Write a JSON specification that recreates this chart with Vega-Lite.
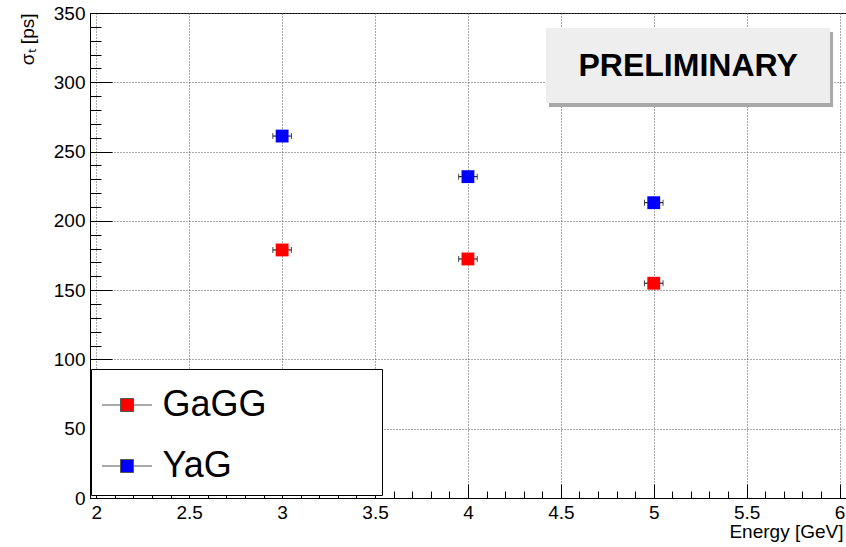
{
  "$schema": "https://vega.github.io/schema/vega-lite/v6.json",
  "width": 757,
  "height": 485,
  "autosize": {"type": "none"},
  "padding": {"left": 90, "top": 13, "right": 0, "bottom": 49},
  "background": "white",
  "config": {
    "view": {"stroke": "black", "strokeWidth": 1},
    "font": "Liberation Sans"
  },
  "resolve": {"axis": {"x": "independent", "y": "independent"}},
  "datasets": {
    "pts": [
      {"energy": 3, "sigma": 179.0, "series": "GaGG", "xlo": 2.95, "xhi": 3.05},
      {"energy": 4, "sigma": 172.5, "series": "GaGG", "xlo": 3.95, "xhi": 4.05},
      {"energy": 5, "sigma": 155.0, "series": "GaGG", "xlo": 4.95, "xhi": 5.05},
      {"energy": 3, "sigma": 261.2, "series": "YaG", "xlo": 2.95, "xhi": 3.05},
      {"energy": 4, "sigma": 231.9, "series": "YaG", "xlo": 3.95, "xhi": 4.05},
      {"energy": 5, "sigma": 213.1, "series": "YaG", "xlo": 4.95, "xhi": 5.05}
    ],
    "annot": [{"label": "PRELIMINARY"}]
  },
  "layer": [
    {
      "data": {"name": "pts"},
      "mark": {"type": "rule", "color": "black", "strokeWidth": 1},
      "encoding": {
        "x": {
          "field": "xlo", "type": "quantitative",
          "scale": {"domain": [1.966, 6.04], "nice": false, "zero": false},
          "axis": {
            "orient": "bottom",
            "title": "Energy [GeV]",
            "values": [2, 2.5, 3, 3.5, 4, 4.5, 5, 5.5, 6],
            "format": "~g",
            "labelOverlap": false,
            "labelFlush": false,
            "labelFontSize": 19,
            "labelColor": "black",
            "labelPadding": 19,
            "tickColor": "black",
            "domainColor": "black",
            "tickSize": -14,
            "grid": true,
            "gridColor": "#555",
            "gridDash": [1, 2],
            "titleFontSize": 19,
            "titleFontWeight": "normal",
            "titleColor": "black",
            "titleAlign": "right",
            "titleAnchor": "end",
            "titleX": 753,
            "titleY": 39,
            "titleBaseline": "alphabetic"
          }
        },
        "x2": {"field": "xhi"},
        "y": {
          "field": "sigma", "type": "quantitative",
          "scale": {"domain": [0, 350], "nice": false},
          "axis": {
            "orient": "left",
            "title": "σₜ [ps]",
            "values": [0, 50, 100, 150, 200, 250, 300, 350],
            "labelOverlap": false,
            "labelFlush": false,
            "labelFontSize": 19,
            "labelColor": "black",
            "labelPadding": 27,
            "tickColor": "black",
            "domainColor": "black",
            "tickSize": -22,
            "grid": true,
            "gridColor": "#555",
            "gridDash": [1, 2],
            "titleFontSize": 19,
            "titleFontWeight": "normal",
            "titleColor": "black",
            "titleAngle": -90,
            "titleAlign": "right",
            "titleAnchor": "end",
            "titleX": -57,
            "titleY": 0,
            "titleBaseline": "alphabetic"
          }
        }
      }
    },
    {
      "data": {"name": "pts"},
      "mark": {"type": "tick", "orient": "vertical", "color": "black", "size": 6, "thickness": 1},
      "encoding": {
        "x": {
          "field": "xlo", "type": "quantitative",
          "axis": {
            "orient": "bottom",
            "title": null,
            "values": [2,2.1,2.2,2.3,2.4,2.5,2.6,2.7,2.8,2.9,3,3.1,3.2,3.3,3.4,3.5,3.6,3.7,3.8,3.9,4,4.1,4.2,4.3,4.4,4.5,4.6,4.7,4.8,4.9,5,5.1,5.2,5.3,5.4,5.5,5.6,5.7,5.8,5.9,6],
            "labels": false,
            "domain": false,
            "grid": false,
            "tickColor": "black",
            "tickSize": -7
          }
        },
        "y": {
          "field": "sigma", "type": "quantitative",
          "axis": {
            "orient": "left",
            "title": null,
            "values": [0,10,20,30,40,50,60,70,80,90,100,110,120,130,140,150,160,170,180,190,200,210,220,230,240,250,260,270,280,290,300,310,320,330,340,350],
            "labels": false,
            "domain": false,
            "grid": false,
            "tickColor": "black",
            "tickSize": -11
          }
        }
      }
    },
    {
      "data": {"name": "pts"},
      "mark": {"type": "tick", "orient": "vertical", "color": "black", "size": 6, "thickness": 1},
      "encoding": {
        "x": {"field": "xhi", "type": "quantitative", "axis": null},
        "y": {"field": "sigma", "type": "quantitative", "axis": null}
      }
    },
    {
      "data": {"name": "pts"},
      "mark": {"type": "point", "shape": "square", "filled": true, "size": 165, "opacity": 1},
      "encoding": {
        "x": {"field": "energy", "type": "quantitative", "axis": null},
        "y": {"field": "sigma", "type": "quantitative", "axis": null},
        "color": {
          "field": "series", "type": "nominal",
          "scale": {"domain": ["GaGG", "YaG"], "range": ["#ff0000", "#0000ff"]},
          "legend": {
            "orient": "none",
            "legendX": 1,
            "legendY": 356,
            "title": null,
            "fillColor": "white",
            "strokeColor": "black",
            "padding": 10.5,
            "cornerRadius": 0,
            "symbolType": "M-1,0H-0.26M0.26,0H1M-0.26,-0.26H0.26V0.26H-0.26Z",
            "symbolSize": 2500,
            "symbolStrokeColor": "#555",
            "symbolStrokeWidth": 1,
            "symbolOpacity": 1,
            "labelFontSize": 36,
            "labelColor": "black",
            "labelOffset": 10,
            "rowPadding": 17,
            "labelLimit": 0,
            "labelExpr": "datum.label + '\u2800\u2800\u2800\u2800'"
          }
        }
      }
    },
    {
      "data": {"name": "annot"},
      "mark": {"type": "rect", "fill": "#a8a8a8", "xOffset": 3, "x2Offset": 3, "yOffset": 4, "y2Offset": 4},
      "encoding": {
        "x": {"datum": 4.420, "type": "quantitative", "axis": null},
        "x2": {"datum": 5.949},
        "y": {"datum": 339.2, "type": "quantitative", "axis": null},
        "y2": {"datum": 285.1}
      }
    },
    {
      "data": {"name": "annot"},
      "mark": {"type": "rect", "fill": "#eeeeee"},
      "encoding": {
        "x": {"datum": 4.420, "type": "quantitative", "axis": null},
        "x2": {"datum": 5.949},
        "y": {"datum": 339.2, "type": "quantitative", "axis": null},
        "y2": {"datum": 285.1}
      }
    },
    {
      "data": {"name": "annot"},
      "mark": {"type": "text", "font": "Liberation Sans", "fontWeight": "bold", "fontSize": 32, "color": "black", "align": "center", "baseline": "middle"},
      "encoding": {
        "text": {"field": "label"},
        "x": {"datum": 5.185, "type": "quantitative", "axis": null},
        "y": {"datum": 311.8, "type": "quantitative", "axis": null}
      }
    }
  ]
}
